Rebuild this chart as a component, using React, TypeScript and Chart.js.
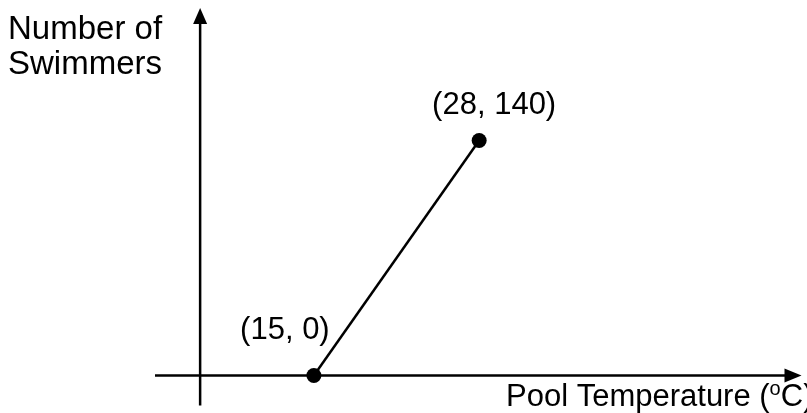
import React, { useEffect, useRef } from "react";
import { Chart, registerables } from "chart.js";

Chart.register(...registerables);

// Data
const temperatures = [15, 28];
const swimmers = [0, 140];
const pointLabels = ["(15, 0)", "(28, 140)"];
const yAxisTitle = ["Number of", "Swimmers"];
const xAxisTitleParts = ["Pool Temperature (", "o", "C)"];
const yAxisCrossAt = 6.05; // x value where the vertical axis is drawn
const xAxisCrossAt = 0; // y value where the horizontal axis is drawn

const FONT = "Liberation Sans, Arial, sans-serif";

const axesPlugin = {
  id: "axesPlugin",
  beforeDatasetsDraw(chart: any) {
    const { ctx, chartArea, scales } = chart;
    const xs = scales.x;
    const ys = scales.y;
    const x0 = xs.getPixelForValue(yAxisCrossAt);
    const y0 = ys.getPixelForValue(xAxisCrossAt);
    ctx.save();
    ctx.strokeStyle = "#000";
    ctx.fillStyle = "#000";
    ctx.lineWidth = 2.5;
    // horizontal axis
    ctx.beginPath();
    ctx.moveTo(chartArea.left, y0);
    ctx.lineTo(chartArea.right - 12, y0);
    ctx.stroke();
    ctx.beginPath();
    ctx.moveTo(chartArea.right + 2, y0);
    ctx.lineTo(chartArea.right - 15, y0 - 7);
    ctx.lineTo(chartArea.right - 15, y0 + 7);
    ctx.closePath();
    ctx.fill();
    // vertical axis
    ctx.beginPath();
    ctx.moveTo(x0, chartArea.bottom);
    ctx.lineTo(x0, chartArea.top + 12);
    ctx.stroke();
    ctx.beginPath();
    ctx.moveTo(x0, chartArea.top);
    ctx.lineTo(x0 - 7, chartArea.top + 16);
    ctx.lineTo(x0 + 7, chartArea.top + 16);
    ctx.closePath();
    ctx.fill();
    ctx.restore();
  },
  afterDatasetsDraw(chart: any) {
    const { ctx, scales } = chart;
    const xs = scales.x;
    const ys = scales.y;
    ctx.save();
    ctx.fillStyle = "#000";
    ctx.textBaseline = "alphabetic";
    // y axis title
    ctx.font = `33px ${FONT}`;
    ctx.textAlign = "left";
    ctx.fillText(yAxisTitle[0], 8, 39);
    ctx.fillText(yAxisTitle[1], 8, 74);
    // point labels
    ctx.font = `31px ${FONT}`;
    ctx.textAlign = "center";
    const offsets = [
      [-29, -36],
      [15, -27],
    ];
    for (let i = 0; i < temperatures.length; i++) {
      const px = xs.getPixelForValue(temperatures[i]);
      const py = ys.getPixelForValue(swimmers[i]);
      ctx.fillText(pointLabels[i], px + offsets[i][0], py + offsets[i][1]);
    }
    // x axis title with superscript
    ctx.textAlign = "left";
    let tx = 506;
    const ty = 406;
    ctx.font = `31px ${FONT}`;
    ctx.fillText(xAxisTitleParts[0], tx, ty);
    tx += ctx.measureText(xAxisTitleParts[0]).width;
    ctx.font = `20px ${FONT}`;
    ctx.fillText(xAxisTitleParts[1], tx, ty - 11);
    tx += ctx.measureText(xAxisTitleParts[1]).width;
    ctx.font = `31px ${FONT}`;
    ctx.fillText(xAxisTitleParts[2], tx, ty);
    ctx.restore();
  },
};

export default function App() {
  const canvasRef = useRef<HTMLCanvasElement | null>(null);

  useEffect(() => {
    const canvas = canvasRef.current;
    if (!canvas) return;
    const chart = new Chart(canvas, {
      type: "scatter",
      data: {
        datasets: [
          {
            data: temperatures.map((t, i) => ({ x: t, y: swimmers[i] })),
            showLine: true,
            borderColor: "#000",
            backgroundColor: "#000",
            borderWidth: 2.5,
            pointRadius: 7.5,
            pointHoverRadius: 7.5,
            pointBackgroundColor: "#000",
            pointBorderWidth: 0,
          },
        ],
      },
      options: {
        animation: false,
        responsive: false,
        devicePixelRatio: 1,
        layout: { padding: { left: 155, right: 0, top: 8, bottom: 7 } },
        plugins: {
          legend: { display: false },
          tooltip: { enabled: false },
          title: { display: false },
        },
        scales: {
          x: { type: "linear", display: false, min: 2.5, max: 53.2 },
          y: { type: "linear", display: false, min: -17.9, max: 219 },
        },
      },
      plugins: [axesPlugin],
    });
    return () => chart.destroy();
  }, []);

  return (
    <div style={{ position: "fixed", left: 0, top: 0, width: 807, height: 413, background: "#fff" }}>
      <canvas ref={canvasRef} width={807} height={413} style={{ display: "block" }} />
    </div>
  );
}
